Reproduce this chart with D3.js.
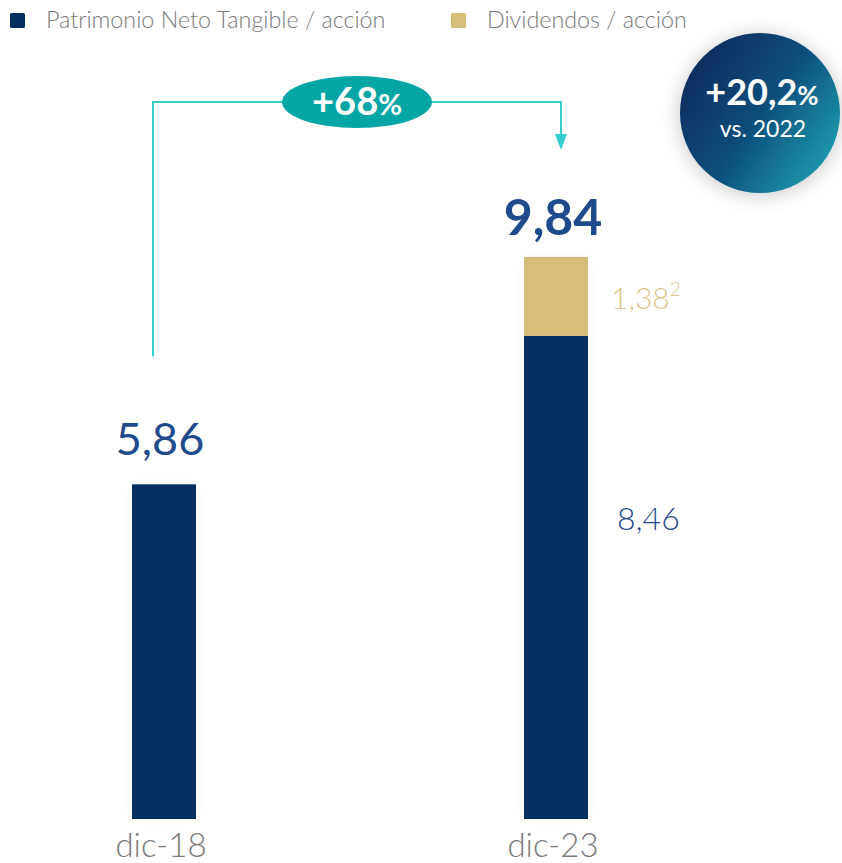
<!DOCTYPE html>
<html>
<head>
<meta charset="utf-8">
<script src="https://cdn.jsdelivr.net/npm/d3@7"></script>
<style>
  html, body { margin: 0; padding: 0; background: #fff; }
  svg { display: block; font-family: Lato, "Open Sans", sans-serif; }
</style>
</head>
<body>
<svg id="chart" width="842" height="863"></svg>
<script>
// Tangible book value per share and dividends per share
const categories = ["dic-18", "dic-23"];
const tangibleValues = [5.86, 8.46];
const dividendValues = [0, 1.38];
const totalLabels = ["5,86", "9,84"];
const tangibleLabels = [null, "8,46"];
const dividendLabels = [null, "1,38"];
const legendLabels = ["Patrimonio Neto Tangible / acción", "Dividendos / acción"];
const growthLabel = "+68";
const badgeMain = "+20,2";
const badgeSub = "vs. 2022";

const navy = "#04305f";
const gold = "#d6bd78";
const labelBlue = "#1f4a8c";

const svg = d3.select("#chart");
const defs = svg.append("defs");

// soft halo around bars
const halo = defs.append("filter").attr("id", "halo")
  .attr("x", "-30%").attr("y", "-10%").attr("width", "160%").attr("height", "120%");
halo.append("feDropShadow").attr("dx", 0).attr("dy", 0).attr("stdDeviation", 4)
  .attr("flood-color", "#c8b98a").attr("flood-opacity", 0.18);

// badge shadow and gradient
const shadow = defs.append("filter").attr("id", "shadow")
  .attr("x", "-40%").attr("y", "-40%").attr("width", "180%").attr("height", "180%");
shadow.append("feDropShadow").attr("dx", 0).attr("dy", 2).attr("stdDeviation", 10)
  .attr("flood-color", "#000").attr("flood-opacity", 0.22);

const grad = defs.append("linearGradient").attr("id", "badgeGrad")
  .attr("x1", "0%").attr("y1", "15%").attr("x2", "100%").attr("y2", "85%");
grad.append("stop").attr("offset", "0%").attr("stop-color", "#07275a");
grad.append("stop").attr("offset", "50%").attr("stop-color", "#0c4e7c");
grad.append("stop").attr("offset", "100%").attr("stop-color", "#21a3b4");

// scales
const x = d3.scalePoint().domain(categories).range([164, 556]);
const barWidth = 64;
const y = d3.scaleLinear().domain([0, 9.84]).range([819, 257]);

// legend
const legend = svg.append("g");
const legendItems = [
  { label: legendLabels[0], color: navy, x: 10 },
  { label: legendLabels[1], color: gold, x: 451 }
];
legendItems.forEach(d => {
  legend.append("rect").attr("x", d.x).attr("y", 13).attr("width", 15).attr("height", 15)
    .attr("rx", 1.5).attr("fill", d.color);
  legend.append("text").attr("x", d.x + 36).attr("y", 28)
    .attr("font-size", 23.3).attr("font-weight", 300).attr("fill", "#7a7a7a")
    .text(d.label);
});

// bars
const bars = svg.append("g");
categories.forEach((c, i) => {
  const bx = x(c) - barWidth / 2, bw = barWidth;
  const t = tangibleValues[i], dv = dividendValues[i];
  bars.append("rect").attr("x", bx).attr("y", y(t + dv)).attr("width", bw)
    .attr("height", y(0) - y(t + dv)).attr("fill", "#fff").attr("filter", "url(#halo)");
  bars.append("rect").attr("x", bx).attr("y", y(t)).attr("width", bw)
    .attr("height", y(0) - y(t)).attr("fill", navy);
  if (dv > 0) {
    bars.append("rect").attr("x", bx).attr("y", y(t + dv)).attr("width", bw)
      .attr("height", y(t) - y(t + dv)).attr("fill", gold);
  }
});

// category labels
categories.forEach(c => {
  svg.append("text").attr("x", x(c) - 3).attr("y", 857)
    .attr("text-anchor", "middle").attr("font-size", 33).attr("font-weight", 300)
    .attr("fill", "#7a7a7a").text(c);
});

// totals above bars
const c0 = categories[0], c1 = categories[1];
svg.append("text").attr("x", x(c0) - 4).attr("y", y(tangibleValues[0]) - 29)
  .attr("text-anchor", "middle").attr("font-size", 45).attr("font-weight", 400)
  .attr("fill", labelBlue).text(totalLabels[0]);
svg.append("text").attr("x", x(c1) - 3).attr("y", y(tangibleValues[1] + dividendValues[1]) - 22)
  .attr("text-anchor", "middle").attr("font-size", 50).attr("font-weight", 700)
  .attr("fill", labelBlue).text(totalLabels[1]);

// segment labels to the right of the stacked bar
const rx = x(c1) + barWidth / 2 + 29;
svg.append("text").attr("x", rx).attr("y", y(tangibleValues[1]) + 194)
  .attr("font-size", 32).attr("font-weight", 300).attr("fill", labelBlue).text(tangibleLabels[1]);
const dl = svg.append("text").attr("x", rx - 6)
  .attr("y", (y(tangibleValues[1]) + y(tangibleValues[1] + dividendValues[1])) / 2 + 13)
  .attr("font-size", 30).attr("font-weight", 300).attr("fill", "#dcc58a");
dl.append("tspan").text(dividendLabels[1]);
dl.append("tspan").attr("font-size", 19).attr("dy", -13).text("2");

// growth connector
const lx0 = x(c0) - 11, lx1 = x(c1) + 5, ly = 101;
const teal = "#34cdd0";
const conn = svg.append("g").attr("fill", "none").attr("stroke", teal).attr("stroke-width", 2);
conn.append("path").attr("d", `M${lx0},${y(tangibleValues[0]) - 128} V${ly + 1} H${lx1} V${136}`);
svg.append("path").attr("d", `M${lx1 - 6},${134} L${lx1 + 6},${134} L${lx1},${150} Z`).attr("fill", teal);

svg.append("ellipse").attr("cx", 357).attr("cy", 102).attr("rx", 75).attr("ry", 26).attr("fill", "#04a6a5");
const gt = svg.append("text").attr("x", 357).attr("y", 115).attr("text-anchor", "middle")
  .attr("fill", "#fff").attr("font-weight", 700);
gt.append("tspan").attr("font-size", 38).text(growthLabel);
gt.append("tspan").attr("font-size", 29).text("%");

// yearly change badge
svg.append("circle").attr("cx", 760).attr("cy", 113).attr("r", 80)
  .attr("fill", "url(#badgeGrad)").attr("filter", "url(#shadow)");
const bt = svg.append("text").attr("x", 762).attr("y", 105).attr("text-anchor", "middle")
  .attr("fill", "#fff").attr("font-weight", 700);
bt.append("tspan").attr("font-size", 36).text(badgeMain);
bt.append("tspan").attr("font-size", 26).text("%");
svg.append("text").attr("x", 763).attr("y", 137).attr("text-anchor", "middle")
  .attr("fill", "#fff").attr("font-size", 23).attr("font-weight", 400).text(badgeSub);
</script>
</body>
</html>
